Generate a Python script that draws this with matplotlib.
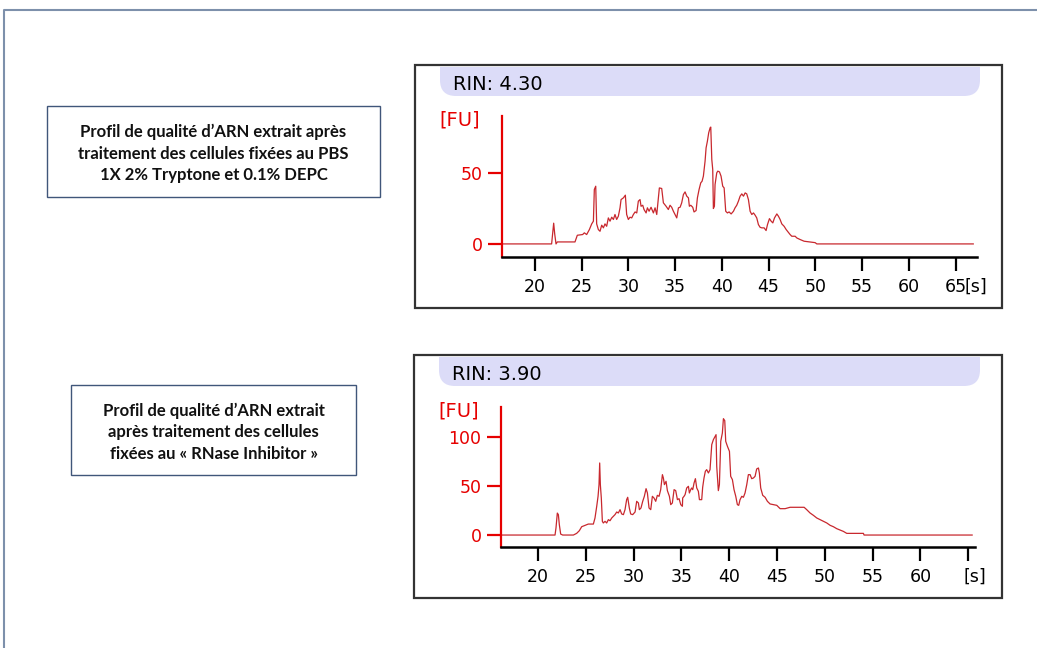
import matplotlib
matplotlib.use("Agg")
import matplotlib.pyplot as plt
from matplotlib.patches import Rectangle, FancyBboxPatch
from matplotlib.transforms import Affine2D

W, H = 1037, 648

# --- data ---
rin_labels = ["RIN: 4.30", "RIN: 3.90"]
captions = [
    "Profil de qualité d’ARN extrait après\ntraitement des cellules fixées au PBS\n1X 2% Tryptone et 0.1% DEPC",
    "Profil de qualité d’ARN extrait\naprès traitement des cellules\nfixées au « RNase Inhibitor »",
]
x_ticks = [20, 25, 30, 35, 40, 45, 50, 55, 60, 65]
x_ticklabels_1 = ["20", "25", "30", "35", "40", "45", "50", "55", "60", "65"]
x_ticklabels_2 = ["20", "25", "30", "35", "40", "45", "50", "55", "60", ""]
y_ticks_1 = [0, 50]
y_ticks_2 = [0, 50, 100]

# sample 1 (PBS / Tryptone / DEPC)
time_1 = [16.5, 21.78, 21.89, 22.0, 22.11, 22.25, 22.39, 24.28, 24.53, 25.10,
          25.28, 25.53, 25.82, 26.07, 26.25, 26.35, 26.50, 26.60, 26.78, 26.96,
          27.14, 27.32, 27.49, 27.67, 27.85, 28.03, 28.21, 28.39, 28.56, 28.74,
          28.92, 29.10, 29.21, 29.46, 29.67, 29.81, 29.99, 30.17, 30.35, 30.53,
          30.71, 30.89, 31.06, 31.24, 31.35, 31.53, 31.67, 31.89, 32.03, 32.21,
          32.42, 32.67, 32.85, 33.03, 33.20, 33.31, 33.56, 33.74, 34.03, 34.27,
          34.45, 34.63, 34.81, 34.99, 35.17, 35.35,
          35.53, 35.70, 35.88, 36.06, 36.24, 36.42, 36.52, 36.67, 36.88, 37.02,
          37.24, 37.38, 37.56, 37.74, 37.88, 38.02, 38.20, 38.31, 38.45, 38.59,
          38.74, 38.81, 38.92, 39.02, 39.09, 39.20, 39.27, 39.45, 39.56, 39.74,
          39.91, 40.09, 40.24, 40.41, 40.59, 40.77, 40.99, 41.24, 41.41, 41.59,
          41.77, 41.95, 42.13, 42.31, 42.49, 42.66, 42.84, 43.02, 43.20, 43.38,
          43.56, 43.73, 43.91, 44.09, 44.27, 44.52, 44.73, 44.88, 45.09, 45.27,
          45.45, 45.63, 45.88, 46.05, 46.23, 46.41, 46.66, 46.88, 47.02, 47.30,
          47.48, 47.84, 48.02, 48.37, 48.80, 49.98, 50.16, 66.9]
fu_1 = [0, 0, 7.0, 14.6, 7.0, 0, 1.4, 1.4, 6.1, 6.6,
        7.8, 6.6, 10.1, 14.1, 16.0, 38.3, 40.6, 14.1, 10.1, 8.9,
        13.2, 11.3, 14.1, 12.4, 18.3, 16.0, 18.8, 17.2, 20.7, 17.2,
        19.5, 25.4, 31.2, 32.4, 34.3, 20.7, 17.2, 18.8, 18.3, 20.7,
        22.5, 21.8, 30.1, 31.2, 26.5, 27.2, 24.2, 21.8, 25.4, 23.0,
        25.8, 21.8, 25.4, 20.7, 32.4, 39.4, 39.0, 28.9, 26.5, 24.2,
        27.2, 25.8, 23.0, 20.7, 18.3, 25.4,
        25.8, 28.9, 34.7, 36.6, 33.6, 32.4, 26.5, 27.2, 25.8, 22.5,
        23.5, 32.4, 38.3, 43.0, 44.1, 47.7, 58.2, 67.6, 72.3, 78.2,
        81.7, 82.2, 59.4, 52.4, 24.9, 26.5, 41.8, 50.0, 51.2, 50.7,
        47.7, 40.6, 39.4, 23.0, 21.8, 22.5, 21.1, 23.0, 25.4, 27.2,
        30.1, 33.6, 35.2, 33.6, 35.9, 35.2, 31.2, 23.0, 20.7, 21.8,
        20.2, 18.3, 13.6, 11.7, 11.3, 11.3, 9.4, 13.6, 17.8, 16.0,
        14.8, 18.3, 21.1, 19.5, 17.2, 14.1, 12.4, 10.1, 8.9, 6.6,
        5.4, 5.4, 4.2, 3.1, 1.9, 0.9, 0, 0]

# sample 2 (RNase Inhibitor)
time_2 = [16.1, 21.78, 21.88, 22.02, 22.13, 22.23, 22.37, 22.58, 23.70, 24.04,
          24.32, 24.57, 24.92, 25.26, 25.79, 25.96, 26.14, 26.28, 26.38, 26.45,
          26.52, 26.62, 26.73, 26.83, 27.01, 27.18, 27.36, 27.53, 27.71, 27.88,
          28.05, 28.23, 28.40, 28.58, 28.75, 28.93, 29.10, 29.27, 29.38, 29.55,
          29.69, 29.90, 30.15, 30.32, 30.50, 30.60, 30.77, 30.95, 31.12, 31.30,
          31.44, 31.61, 31.79, 31.96, 32.13, 32.31, 32.48, 32.66, 32.83, 33.01,
          33.11, 33.22, 33.39, 33.53, 33.74, 33.88, 34.05, 34.23, 34.40, 34.58,
          34.75, 34.93, 35.10,
          35.13, 35.27, 35.38, 35.55, 35.73, 35.83, 35.97, 36.07, 36.18, 36.32,
          36.46, 36.60, 36.77, 36.88, 37.12, 37.22, 37.36, 37.50, 37.64, 37.82,
          37.99, 38.17, 38.34, 38.52, 38.62, 38.69, 38.86, 38.97, 39.11, 39.28,
          39.39, 39.53, 39.63, 39.81, 40.02, 40.15, 40.33, 40.50, 40.68, 40.85,
          40.99, 41.13, 41.31, 41.48, 41.65, 41.83, 42.00, 42.18, 42.35, 42.53,
          42.70, 42.87, 43.05, 43.15, 43.29, 43.50, 43.75, 43.99, 44.27, 44.62,
          44.97, 45.32, 45.84, 46.36, 47.83, 48.10, 48.45, 48.80, 49.15, 49.50,
          49.85, 50.20, 50.55, 50.89, 51.24, 51.59, 51.94, 52.29, 54.03, 54.10,
          65.4]
fu_2 = [0, 0, 7.2, 22.4, 20.8, 10.6, 1.0, 0, 0, 1.7,
        4.4, 8.5, 9.9, 11.2, 11.2, 17.4, 29.3, 39.5, 51.4, 73.5,
        51.4, 37.8, 14.0, 12.3, 14.0, 12.3, 15.7, 14.6, 17.4, 19.1,
        20.8, 23.5, 22.5, 25.9, 21.5, 20.8, 25.9, 36.1, 38.5, 27.6,
        21.5, 20.8, 23.5, 34.4, 32.7, 25.9, 27.6, 34.4, 39.5, 47.3,
        42.9, 27.6, 25.9, 39.5, 37.8, 34.4, 40.5, 39.5, 46.3, 61.6,
        58.2, 51.4, 54.8, 45.3, 39.5, 31.0, 32.7, 46.3, 45.3, 36.1,
        37.1, 31.0, 29.3,
        37.8, 39.5, 41.2, 48.0, 49.7, 42.9, 46.3, 48.0, 46.3, 53.1,
        57.5, 48.0, 44.6, 36.1, 36.1, 48.7, 58.2, 65.0, 66.7, 63.3,
        66.7, 92.2, 97.3, 100.7, 102.4, 70.1, 45.3, 51.4, 95.6, 104.1,
        118.7, 116.7, 95.6, 90.5, 85.4, 59.9, 56.5, 46.3, 39.5, 31.0,
        30.3, 36.1, 39.5, 38.5, 42.9, 51.4, 61.6, 61.6, 57.5, 58.2,
        59.9, 67.4, 68.4, 63.3, 48.0, 40.5, 38.5, 34.4, 31.7, 31.0,
        30.3, 26.9, 26.9, 28.3, 28.3, 25.9, 22.5, 20.1, 17.4, 15.7,
        14.0, 12.3, 9.9, 8.5, 6.5, 5.1, 3.7, 1.7, 1.7, 0,
        0]

TRACE = "#c8282e"
AXRED = "#e60000"
BANNER = "#dcdcf8"
FRAME = "#7d90ab"

fig = plt.figure(figsize=(W / 100, H / 100), dpi=100)
fig.patch.set_facecolor("white")
# pixel coords, origin top-left
pxt = Affine2D().scale(1 / W, -1 / H).translate(0, 1) + fig.transFigure

# slide frame
fig.add_artist(plt.Line2D([4, 4, W], [H, 10, 10], transform=pxt, color=FRAME, lw=1.5))

# caption boxes
for cap, (x0, y0, x1, y1) in zip(captions, [(47, 106, 380, 197), (71, 385, 356, 475)]):
    fig.add_artist(Rectangle((x0, y0), x1 - x0, y1 - y0, transform=pxt, fc="white",
                             ec="#40567a", lw=1.0))
    fig.text((x0 + x1) / 2 / W, 1 - ((y0 + y1) / 2 + 2) / H, cap, ha="center", va="center",
             fontsize=12, fontweight="bold", family="Lato", linespacing=1.42, color="#111111")


def panel(box, axrect, xlim, ylim, t, fu, yticks, xlabels, rin, s_x):
    bx0, by0, bx1, by1 = box
    frame = Rectangle((bx0, by0), bx1 - bx0, by1 - by0, transform=pxt, fc="white",
                      ec="#333333", lw=1.6, zorder=-2)
    fig.add_artist(frame)
    clip = Rectangle((bx0, by0 + 2), bx1 - bx0, by1 - by0, transform=pxt)
    ban = FancyBboxPatch((bx0 + 25, by0 - 30), bx1 - bx0 - 47, 61,
                         boxstyle="round,pad=0,rounding_size=16", transform=pxt,
                         fc=BANNER, ec="none", zorder=-1)
    fig.add_artist(ban)
    ban.set_clip_path(clip)
    fig.text((bx0 + 38) / W, 1 - (by0 + 19) / H, rin, ha="left", va="center", fontsize=14)
    fig.text((bx0 + 24) / W, 1 - (axrect[1] + 4) / H, "[FU]", ha="left", va="center",
             fontsize=14, color=AXRED)

    x0, y0, x1, y1 = axrect
    ax = fig.add_axes([x0 / W, 1 - y1 / H, (x1 - x0) / W, (y1 - y0) / H])
    ax.patch.set_alpha(0)
    ax.plot(t, fu, color=TRACE, lw=0.9)
    ax.set_xlim(*xlim)
    ax.set_ylim(*ylim)
    for s in ["top", "right"]:
        ax.spines[s].set_visible(False)
    ax.spines["left"].set_color(AXRED)
    ax.spines["left"].set_linewidth(1.6)
    ax.spines["bottom"].set_color("black")
    ax.spines["bottom"].set_linewidth(1.8)
    ax.set_yticks(yticks)
    ax.set_xticks(x_ticks)
    ax.set_xticklabels(xlabels)
    ax.tick_params(axis="y", colors=AXRED, length=10, width=1.6, labelsize=12.5, pad=4)
    ax.tick_params(axis="x", colors="black", length=10, width=1.6, labelsize=12.5, pad=5)
    ax.annotate("[s]", xy=(s_x, 0), xycoords=ax.get_xaxis_transform(),
                xytext=(0, -15), textcoords="offset points", ha="left", va="top",
                fontsize=12.5, annotation_clip=False)
    return ax


panel((415, 65, 1002, 308), (502, 116, 977, 257), (16.47, 67.3), (-9.2, 90),
      time_1, fu_1, y_ticks_1, x_ticklabels_1, rin_labels[0], 65.95)
panel((414, 355, 1002, 598), (501, 407, 975, 547), (16.13, 65.7), (-12.2, 130.6),
      time_2, fu_2, y_ticks_2, x_ticklabels_2, rin_labels[1], 64.5)

fig.savefig("out.png", dpi=100)
